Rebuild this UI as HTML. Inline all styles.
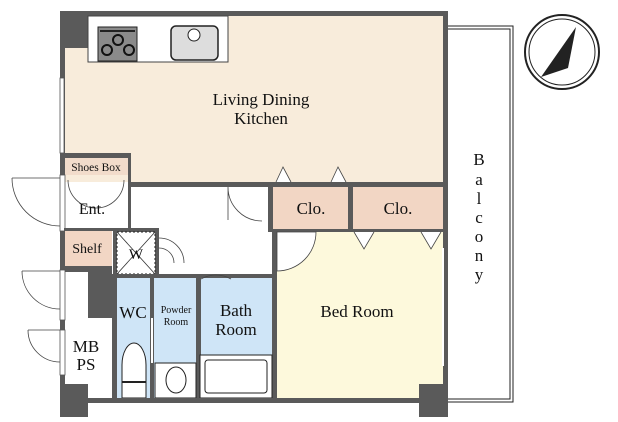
<!DOCTYPE html>
<html><head><style>body{margin:0;background:#fff}svg{display:block}text{font-family:"Liberation Serif",serif;fill:#111}</style></head><body>
<svg width="618" height="422" viewBox="0 0 618 422" xmlns="http://www.w3.org/2000/svg">
<!-- balcony -->
<rect x="447" y="26" width="66" height="376" fill="none" stroke="#222" stroke-width="1"/>
<rect x="447" y="29" width="63" height="370" fill="none" stroke="#222" stroke-width="1"/>
<text x="479" y="165" font-size="17" text-anchor="middle">B</text>
<text x="479" y="185" font-size="17" text-anchor="middle">a</text>
<text x="479" y="204" font-size="17" text-anchor="middle">l</text>
<text x="479" y="223" font-size="17" text-anchor="middle">c</text>
<text x="479" y="242" font-size="17" text-anchor="middle">o</text>
<text x="479" y="261" font-size="17" text-anchor="middle">n</text>
<text x="479" y="280" font-size="17" text-anchor="middle">y</text>
<!-- compass -->
<circle cx="562" cy="52" r="37" fill="#fff" stroke="#222" stroke-width="2"/>
<circle cx="562" cy="52" r="33" fill="none" stroke="#222" stroke-width="1"/>
<polygon points="576,27 541,77 568,68" fill="#222"/>
<!-- LDK -->
<rect x="65" y="16" width="378" height="166" fill="#f8ecdb"/>
<rect x="60" y="11" width="388" height="5" fill="#5a5a5a"/>
<rect x="60" y="11" width="28" height="37" fill="#5a5a5a"/>
<rect x="88" y="16" width="140" height="46" fill="#fff" stroke="#444" stroke-width="1"/>
<rect x="98" y="27" width="39" height="34" fill="#8a8a8a" stroke="#222"/>
<line x1="100" y1="31" x2="135" y2="31" stroke="#222" stroke-width="2"/>
<circle cx="118" cy="40" r="5" fill="none" stroke="#111" stroke-width="2"/>
<circle cx="107" cy="50" r="5" fill="none" stroke="#111" stroke-width="2"/>
<circle cx="129" cy="50" r="5" fill="none" stroke="#111" stroke-width="2"/>
<rect x="171" y="26" width="47" height="34" rx="5" fill="#ddd" stroke="#222" stroke-width="1.5"/>
<circle cx="194" cy="35" r="6" fill="#fff" stroke="#222"/>
<text x="261" y="105" font-size="17" text-anchor="middle">Living Dining</text>
<text x="261" y="124" font-size="17" text-anchor="middle">Kitchen</text>
<!-- left wall -->
<rect x="60" y="11" width="5" height="406" fill="#5a5a5a"/>
<rect x="60" y="78" width="4" height="75" fill="#fff" stroke="#555" stroke-width="0.8"/>
<!-- shoes box -->
<rect x="60" y="153" width="70" height="5" fill="#5a5a5a"/>
<rect x="65" y="158" width="63" height="17" fill="#f2dccb"/>
<text x="96" y="171" font-size="11.5" text-anchor="middle">Shoes Box</text>
<rect x="128" y="153" width="3" height="75" fill="#5a5a5a"/>
<!-- LDK bottom wall -->
<rect x="128" y="182" width="320" height="5" fill="#5a5a5a"/>
<rect x="443" y="11" width="5" height="406" fill="#5a5a5a"/>
<!-- entrance -->
<rect x="60" y="175" width="5" height="56" fill="#fff" stroke="#555" stroke-width="0.8"/>
<path d="M12 178 L60 178 M12 178 A48 48 0 0 0 60 226" fill="none" stroke="#444" stroke-width="0.8"/>
<path d="M68 180 A28 28 0 0 0 96 208 M124 180 A28 28 0 0 1 96 208" fill="none" stroke="#444" stroke-width="0.8"/>
<text x="92" y="214" font-size="16" text-anchor="middle">Ent.</text>
<rect x="64" y="228" width="52" height="3" fill="#5a5a5a"/>
<rect x="65" y="231" width="47" height="35" fill="#f2d6c4"/>
<text x="87" y="253" font-size="14" text-anchor="middle">Shelf</text>
<!-- W -->
<rect x="113" y="228" width="46" height="48" fill="#5a5a5a"/>
<rect x="117" y="232" width="38" height="42" fill="#fff" stroke="#222" stroke-dasharray="2,2"/>
<path d="M117 232 L155 274 M155 232 L117 274" stroke="#333" stroke-width="0.8"/>
<text x="136" y="259" font-size="15" text-anchor="middle">W</text>
<path d="M159 238 A25 25 0 0 1 184 263 M159 248 A15 15 0 0 1 174 263" fill="none" stroke="#444" stroke-width="0.8"/>
<!-- left lower -->
<rect x="65" y="266" width="47" height="6" fill="#5a5a5a"/>
<rect x="88" y="271" width="24" height="47" fill="#5a5a5a"/>
<rect x="60" y="270" width="5" height="50" fill="#fff" stroke="#555" stroke-width="0.8"/>
<path d="M22 271 L60 271 M22 271 A38 38 0 0 0 60 309" fill="none" stroke="#444" stroke-width="0.8"/>
<rect x="60" y="330" width="5" height="45" fill="#fff" stroke="#555" stroke-width="0.8"/>
<path d="M28 330 L60 330 M28 330 A32 32 0 0 0 60 362" fill="none" stroke="#444" stroke-width="0.8"/>
<rect x="112" y="276" width="5" height="122" fill="#5a5a5a"/>
<text x="86" y="352" font-size="17" text-anchor="middle">MB</text>
<text x="86" y="370" font-size="17" text-anchor="middle">PS</text>
<rect x="60" y="384" width="28" height="33" fill="#5a5a5a"/>
<!-- wet rooms -->
<rect x="112" y="274" width="165" height="4" fill="#5a5a5a"/>
<rect x="117" y="278" width="33" height="120" fill="#cfe5f7"/>
<rect x="154" y="278" width="42" height="120" fill="#cfe5f7"/>
<rect x="201" y="278" width="71" height="120" fill="#cfe5f7"/>
<rect x="150" y="278" width="4" height="120" fill="#5a5a5a"/>
<rect x="151" y="318" width="2" height="45" fill="#fff"/>
<rect x="196" y="278" width="5" height="120" fill="#5a5a5a"/>
<rect x="272" y="182" width="5" height="216" fill="#5a5a5a"/>
<text x="133" y="318" font-size="17" text-anchor="middle">WC</text>
<text x="176" y="313" font-size="10" text-anchor="middle">Powder</text>
<text x="176" y="325" font-size="10" text-anchor="middle">Room</text>
<text x="236" y="316" font-size="17" text-anchor="middle">Bath</text>
<text x="236" y="335" font-size="17" text-anchor="middle">Room</text>
<path d="M201 279 A30 30 0 0 1 231 279" fill="none" stroke="#444" stroke-width="0.8"/>
<path d="M122 398 L122 365 A12 22 0 0 1 146 365 L146 398 Z" fill="#fff" stroke="#222"/>
<line x1="122" y1="382" x2="146" y2="382" stroke="#222" stroke-width="2"/>
<rect x="155" y="363" width="41" height="35" fill="#fff" stroke="#222"/>
<ellipse cx="176" cy="380" rx="10" ry="13" fill="#fff" stroke="#222"/>
<rect x="200" y="355" width="72" height="43" fill="#fff" stroke="#222"/>
<rect x="205" y="360" width="62" height="33" rx="3" fill="#fff" stroke="#222"/>
<!-- closets -->
<rect x="268" y="182" width="180" height="50" fill="#5a5a5a"/>
<rect x="273" y="187" width="75" height="42" fill="#f2d6c4"/>
<rect x="353" y="187" width="90" height="42" fill="#f2d6c4"/>
<text x="311" y="214" font-size="17" text-anchor="middle">Clo.</text>
<text x="398" y="214" font-size="17" text-anchor="middle">Clo.</text>
<path d="M276 182 L283 167 L291 182 M331 182 L338 167 L346 182" fill="#fff" stroke="#444" stroke-width="0.8"/>
<!-- bedroom -->
<rect x="277" y="232" width="166" height="166" fill="#fdf9dc"/>
<path d="M354 232 L364 249 L374 232 M421 232 L431 249 L441 232" fill="#fff" stroke="#444" stroke-width="0.8"/>
<path d="M277 232 L316 232 A39 39 0 0 1 277 271 Z" fill="#fff" stroke="#444" stroke-width="0.8"/>
<text x="357" y="317" font-size="17" text-anchor="middle">Bed Room</text>
<rect x="442" y="248" width="2" height="118" fill="#fff"/>
<rect x="442" y="20" width="2" height="160" fill="#fff" opacity="0"/>
<path d="M228 187 L228 220 M228 187 A34 34 0 0 0 262 221" fill="none" stroke="#444" stroke-width="0.8"/>
<!-- bottom wall -->
<rect x="88" y="398" width="360" height="5" fill="#5a5a5a"/>
<rect x="419" y="384" width="29" height="33" fill="#5a5a5a"/>
</svg>
</body></html>
